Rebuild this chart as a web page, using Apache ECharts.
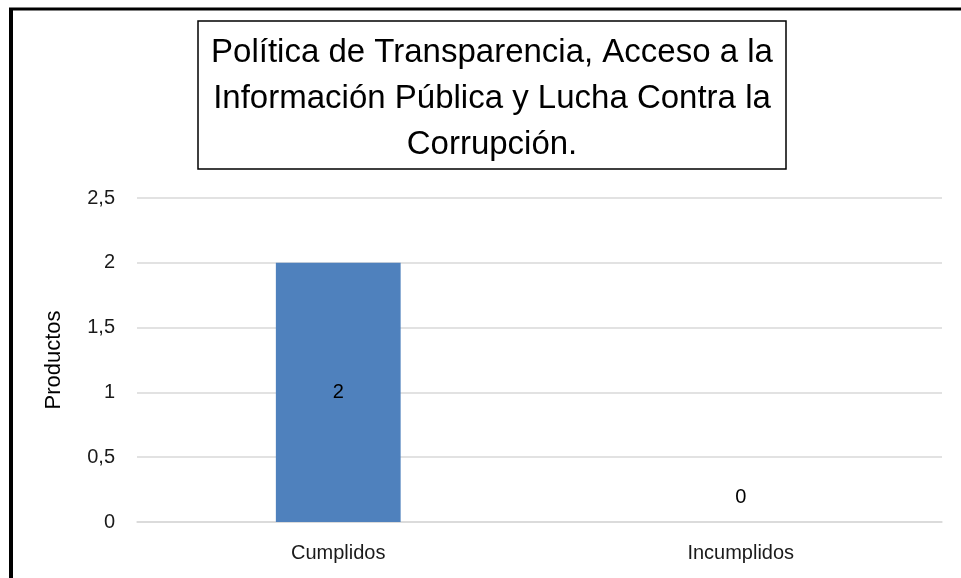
<!DOCTYPE html>
<html>
<head>
<meta charset="utf-8">
<script src="https://cdn.jsdelivr.net/npm/echarts@6/dist/echarts.min.js"></script>
<style>
    html, body { margin: 0; padding: 0; background: #fff; }
    #chart { width: 961px; height: 578px; }
</style>
</head>
<body>
<div id="chart"></div>
<script>
    // data
    let categories = ['Cumplidos', 'Incumplidos']
    let values = [2, 0]
    let titleLines = [
        'Política de Transparencia, Acceso a la',
        'Información Pública y Lucha Contra la',
        'Corrupción.'
    ]

    let font = '"Liberation Sans", Arial, sans-serif'

    let option = {
        backgroundColor: '#fff',
        textStyle: {fontFamily: font},
        title: {
            text: titleLines.join('\n'),
            // with textAlign center the box is centred on left + padding
            left: 479,
            top: 21,
            padding: [9, 13, 1, 13],
            borderColor: '#000',
            borderWidth: 1.5,
            textAlign: 'center',
            textStyle: {
                fontFamily: font,
                fontSize: 33,
                fontWeight: 'normal',
                lineHeight: 46,
                color: '#000'
            }
        },
        graphic: [
            {type: 'line', shape: {x1: 9, y1: 9, x2: 961, y2: 9}, style: {stroke: '#000', lineWidth: 3}},
            {type: 'line', shape: {x1: 11, y1: 8, x2: 11, y2: 578}, style: {stroke: '#000', lineWidth: 4}}
        ],
        grid: {
            left: 137,
            right: 19,
            top: 198,
            bottom: 56
        },
        xAxis: {
            type: 'category',
            data: categories,
            axisLine: {lineStyle: {color: '#d9d9d9', width: 1.5}},
            axisTick: {show: false},
            axisLabel: {fontSize: 20, color: '#1a1a1a', margin: 21}
        },
        yAxis: {
            type: 'value',
            min: 0,
            max: 2.5,
            interval: 0.5,
            name: 'Productos',
            nameLocation: 'middle',
            nameGap: 72,
            nameTextStyle: {fontSize: 22, color: '#000'},
            axisLine: {show: false},
            axisTick: {show: false},
            splitLine: {lineStyle: {color: '#d9d9d9', width: 1.5}},
            axisLabel: {
                fontSize: 20,
                color: '#1a1a1a',
                margin: 22,
                formatter: v => String(v).replace('.', ',')
            }
        },
        series: [{
            type: 'bar',
            barWidth: '31%',
            itemStyle: {color: '#4f81bd'},
            data: values.map(v => ({
                value: v,
                label: v > 0
                    ? {show: true, position: 'inside'}
                    : {show: true, position: 'top', distance: 15}
            })),
            label: {fontSize: 20, color: '#000'}
        }]
    }

    let myChart = echarts.init(document.getElementById('chart'))
    myChart.setOption(option)
</script>
</body>
</html>
